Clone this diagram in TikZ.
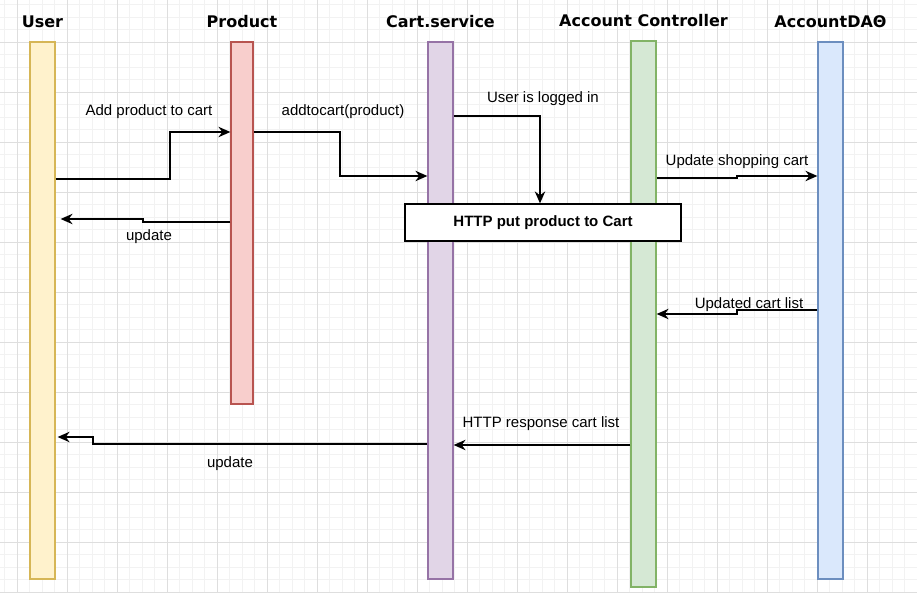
\documentclass[tikz,border=0pt]{standalone}
\usepackage{fontspec}
\setmainfont{Liberation Sans}
\newfontfamily\titlefont{DejaVu Sans}
\usetikzlibrary{positioning,arrows.meta}
\definecolor{userfill}{HTML}{FFF2CC}\definecolor{userline}{HTML}{D6B656}
\definecolor{prodfill}{HTML}{F8CECC}\definecolor{prodline}{HTML}{B85450}
\definecolor{cartfill}{HTML}{E1D5E7}\definecolor{cartline}{HTML}{9673A6}
\definecolor{accfill}{HTML}{D5E8D4}\definecolor{accline}{HTML}{82B366}
\definecolor{daofill}{HTML}{DAE8FC}\definecolor{daoline}{HTML}{6C8EBF}
\begin{document}
\begin{tikzpicture}[
  x=1pt,y=-1pt,
  font=\fontsize{15}{18}\selectfont,
  life/.style={draw,line width=1.25pt,minimum width=25pt,inner sep=0pt},
  ttl/.style={font=\titlefont\bfseries\fontsize{16}{19}\selectfont,inner sep=0pt},
  lbl/.style={anchor=base,inner sep=0pt},
  msg/.style={-{Stealth[length=12pt,width=10.5pt,inset=4pt]},line width=1.4pt},
  gminor/.style={draw=black!5,line width=0.6pt},
  gmajor/.style={draw=black!13,line width=0.8pt},
]
\useasboundingbox (0,0) rectangle (917,593);
\fill[white] (0,0) rectangle (917,593);
% grid
\foreach \gx in {4.5,17,...,917} \draw[gminor] (\gx,0) -- (\gx,593);
\foreach \gy in {4.5,17,...,592} \draw[gminor] (0,\gy) -- (917,\gy);
\foreach \gx in {17,67,...,917} \draw[gmajor] (\gx,0) -- (\gx,593);
\foreach \gy in {42,92,...,592} \draw[gmajor] (0,\gy) -- (917,\gy);
% lifelines
\node[life,fill=userfill,draw=userline,minimum height=537pt] (user) at (42.5,310.5) {};
\node[life,fill=prodfill,draw=prodline,minimum width=22pt,minimum height=362pt] (prod) at (242,223) {};
\node[life,fill=cartfill,draw=cartline,minimum height=537pt] (cart) at (440.5,310.5) {};
\node[life,fill=accfill,draw=accline,minimum height=546pt] (acc) at (643.5,314) {};
\node[life,fill=daofill,draw=daoline,minimum height=537pt] (dao) at (830.5,310.5) {};
\node[ttl,above=13pt of user] (tuser) {User};
\node[ttl,above=13pt of prod] (tprod) {Product};
\node[ttl,above=13pt of cart] (tcart) {Cart.service};
\node[ttl,above=13pt of acc] (tacc) {Account Controller};
\node[ttl,above=13pt of dao] (tdao) {AccountDAΘ};
\node[draw,fill=white,line width=1.25pt,minimum width=276pt,minimum height=37pt,
      font=\bfseries\fontsize{15}{18}\selectfont] (put) at (543,222.5) {HTTP put product to Cart};
% messages
\draw[msg] (user.east |- 0,179) -| (170,132) -- (prod.west |- 0,132);
\draw[msg] (prod.east |- 0,132) -| (340,176) -- (cart.west |- 0,176);
\draw[msg] (prod.west |- 0,222) -| (143,219) -- ([xshift=5pt]user.east |- 0,219);
\draw[msg] (cart.east |- 0,116) -| ([xshift=-3pt]put.north);
\draw[msg] (acc.east |- 0,178) -| (737,176) -- (dao.west |- 0,176);
\draw[msg] (dao.west |- 0,310) -| (737,314) -- (acc.east |- 0,314);
\draw[msg] (acc.west |- 0,445) -- (cart.east |- 0,445);
\draw[msg] (cart.west |- 0,444) -| (93,437) -- ([xshift=2pt]user.east |- 0,437);
% labels
\node[lbl] (ladd) at (149,116) {Add product to cart};
\node[lbl] (laddto) at (343,116) {addtocart(product)};
\node[lbl] (lupd) at (149,241) {update};
\node[lbl] (llog) at (543,103) {User is logged in};
\node[lbl] (lshop) at (737,166) {Update shopping cart};
\node[lbl] (llist) at (749,308.5) {Updated cart list};
\node[lbl] (lresp) at (541,427.5) {HTTP response cart list};
\node[lbl] (lupd2) at (230,467) {update};
\end{tikzpicture}
\end{document}
